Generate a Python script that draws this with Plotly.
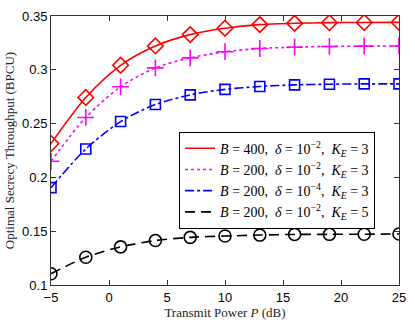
import plotly.graph_objects as go

power_db = [-5, -2, 1, 4, 7, 10, 13, 16, 19, 22, 25]
b400_d2_k3 = [0.2315, 0.2743, 0.3042, 0.3222, 0.3327, 0.3386, 0.3420, 0.3432, 0.3438, 0.3440, 0.3441]
b200_d2_k3 = [0.2150, 0.2557, 0.2842, 0.3018, 0.3111, 0.3168, 0.3198, 0.3210, 0.3217, 0.3220, 0.3221]
b200_d4_k3 = [0.1905, 0.2264, 0.2519, 0.2677, 0.2767, 0.2818, 0.2845, 0.2860, 0.2866, 0.2869, 0.2869]
b200_d2_k5 = [0.1105, 0.1258, 0.1354, 0.1413, 0.1443, 0.1455, 0.1464, 0.1470, 0.1471, 0.1472, 0.1474]

labels = [
    "<i>B</i> = 400,  <i>δ</i> = 10<sup>−2</sup>,  <i>K<sub>E</sub></i> = 3",
    "<i>B</i> = 200,  <i>δ</i> = 10<sup>−2</sup>,  <i>K<sub>E</sub></i> = 3",
    "<i>B</i> = 200,  <i>δ</i> = 10<sup>−4</sup>,  <i>K<sub>E</sub></i> = 3",
    "<i>B</i> = 200,  <i>δ</i> = 10<sup>−2</sup>,  <i>K<sub>E</sub></i> = 5",
]
series = [b400_d2_k3, b200_d2_k3, b200_d4_k3, b200_d2_k5]
colors = ["#ff0000", "#ff00ff", "#0000ff", "#000000"]
dashes = ["solid", "dot", "dashdot", "10px,6px"]
symbols = ["diamond-open", "cross-thin-open", "square-open", "circle-open"]
msizes = [12, 12, 10, 12]

fig = go.Figure()
for ys, c, d, lab in zip(series, colors, dashes, labels):
    fig.add_trace(go.Scatter(x=power_db, y=ys, mode="lines", name=lab,
                             line=dict(color=c, width=1.6, dash=d, shape="spline", smoothing=0.8)))
for ys, c, s, ms in zip(series, colors, symbols, msizes):
    fig.add_trace(go.Scatter(x=power_db, y=ys, mode="markers", showlegend=False,
                             marker=dict(symbol=s, size=ms, color=c, line=dict(color=c, width=1.6))))

axis_common = dict(showgrid=False, zeroline=False, ticks="inside", ticklen=5,
                   mirror="allticks", showline=True, linecolor="#333333", linewidth=1,
                   tickcolor="#333333",
                   tickfont=dict(family="Liberation Sans, Arial", size=13, color="black"))
fig.update_xaxes(range=[-5, 25], tickvals=[-5, 0, 5, 10, 15, 20, 25],
                 ticktext=["−5", "0", "5", "10", "15", "20", "25"],
                 title=dict(text="Transmit Power <i>P</i> (dB)", standoff=2,
                            font=dict(family="Liberation Serif, Times New Roman", size=13, color="#222")),
                 **axis_common)
fig.update_yaxes(range=[0.1, 0.35], tickvals=[0.1, 0.15, 0.2, 0.25, 0.3, 0.35],
                 ticktext=["0.1", "0.15", "0.2", "0.25", "0.3", "0.35"],
                 title=dict(text="Optimal Secrecy Throughput (BPCU)", standoff=4,
                            font=dict(family="Liberation Serif, Times New Roman", size=13, color="#222")),
                 **axis_common)
fig.update_layout(
    width=415, height=325,
    margin=dict(l=50, r=12, t=9, b=37),
    paper_bgcolor="white", plot_bgcolor="white",
    legend=dict(x=0.368, y=0.57, xanchor="left", yanchor="top",
                bordercolor="black", borderwidth=1, bgcolor="white",
                font=dict(family="Liberation Serif, Times New Roman", size=14, color="black"),
                tracegroupgap=0, itemwidth=30),
)
fig.write_html("out.html", config={"displayModeBar": False},
               post_script="document.body.style.margin='0';document.body.style.padding='0';")
